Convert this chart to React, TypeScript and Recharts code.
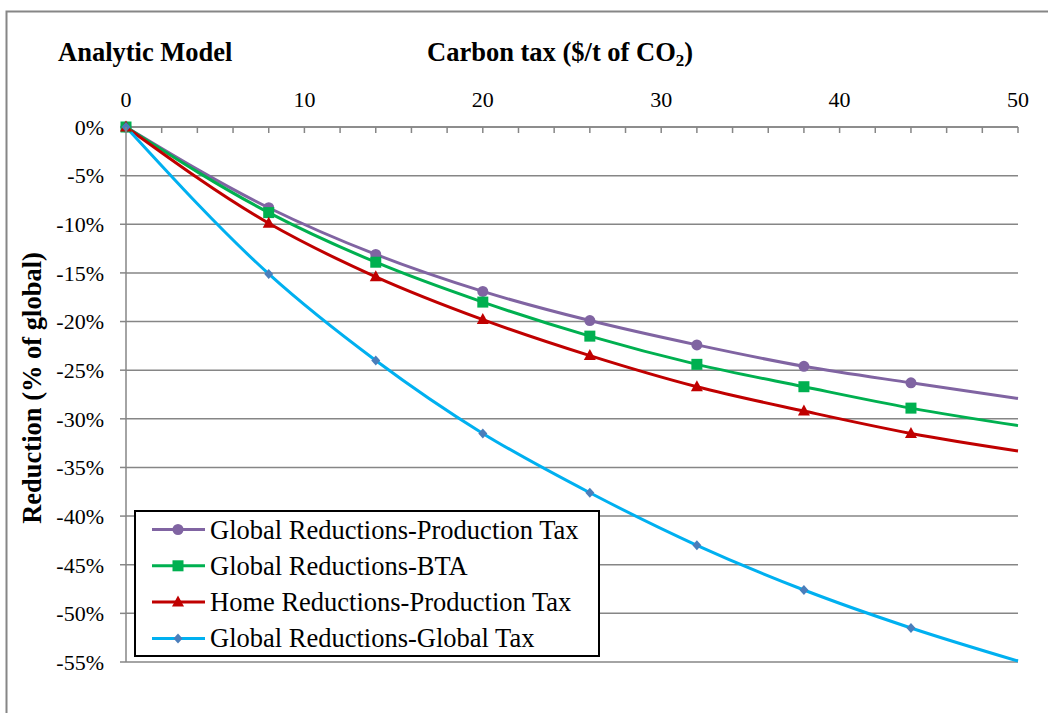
import React from 'react'
import { LineChart, Line, XAxis, YAxis, CartesianGrid } from 'recharts'

// carbon tax ($/t CO2) and reductions (% of global)
const TAX = [0, 8, 14, 20, 26, 32, 38, 44, 50]
const GLOBAL_PRODUCTION_TAX = [0, -8.3, -13.1, -16.9, -19.9, -22.4, -24.6, -26.3, -27.9]
const GLOBAL_BTA = [0, -8.8, -13.9, -18.0, -21.5, -24.4, -26.7, -28.9, -30.7]
const HOME_PRODUCTION_TAX = [0, -9.9, -15.4, -19.8, -23.5, -26.7, -29.2, -31.5, -33.3]
const GLOBAL_GLOBAL_TAX = [0, -15.1, -24.0, -31.5, -37.6, -43.0, -47.6, -51.5, -54.9]

const X_TICKS = [0, 2, 4, 6, 8, 10, 12, 14, 16, 18, 20, 22, 24, 26, 28, 30, 32, 34, 36, 38, 40, 42, 44, 46, 48, 50]
const Y_TICKS = [0, -5, -10, -15, -20, -25, -30, -35, -40, -45, -50, -55]
const LAST_TAX = TAX[TAX.length - 1]

const data = TAX.map((t, i) => ({
  tax: t,
  gp: GLOBAL_PRODUCTION_TAX[i],
  bta: GLOBAL_BTA[i],
  home: HOME_PRODUCTION_TAX[i],
  gg: GLOBAL_GLOBAL_TAX[i],
}))

const FONT = '"Liberation Serif", "Times New Roman", serif'
const GRID = '#868686'

type Shape = 'circle' | 'square' | 'triangle' | 'diamond'

const SERIES: { key: string; name: string; color: string; marker: string; shape: Shape }[] = [
  { key: 'gp', name: 'Global Reductions-Production Tax', color: '#8064A2', marker: '#8064A2', shape: 'circle' },
  { key: 'bta', name: 'Global Reductions-BTA', color: '#00B050', marker: '#00B050', shape: 'square' },
  { key: 'home', name: 'Home Reductions-Production Tax', color: '#C00000', marker: '#C00000', shape: 'triangle' },
  { key: 'gg', name: 'Global Reductions-Global Tax', color: '#00B0F0', marker: '#4A7EBB', shape: 'diamond' },
]

function Marker({ cx, cy, shape, color }: { cx: number; cy: number; shape: Shape; color: string }) {
  if (shape === 'circle') return <circle cx={cx} cy={cy} r={5.5} fill={color} />
  if (shape === 'square') return <rect x={cx - 5.5} y={cy - 5.5} width={11} height={11} fill={color} />
  if (shape === 'triangle')
    return <polygon points={`${cx},${cy - 6.5} ${cx + 6},${cy + 4.5} ${cx - 6},${cy + 4.5}`} fill={color} />
  return <polygon points={`${cx},${cy - 5} ${cx + 4.5},${cy} ${cx},${cy + 5} ${cx - 4.5},${cy}`} fill={color} />
}

const makeDot = (shape: Shape, color: string) => (props: any) => {
  const { cx, cy, payload, index } = props
  if (payload.tax === LAST_TAX || cx == null) return <g key={`d-${index}`} />
  return <Marker key={`d-${index}`} cx={cx} cy={cy} shape={shape} color={color} />
}

const XTick = (props: any) => {
  const { x, y, payload } = props
  const axisY = y + 20
  const major = payload.value % 10 === 0
  return (
    <g>
      <line x1={x} x2={x} y1={axisY} y2={axisY + 6} stroke={GRID} strokeWidth={1.5} />
      {major && (
        <text x={x} y={y} textAnchor="middle" fontSize={22} fontFamily={FONT} fill="#000">
          {payload.value}
        </text>
      )}
    </g>
  )
}

const LegendBox = () => (
  <g transform="translate(135 511)">
    <rect x={0} y={0} width={464} height={145} fill="#fff" stroke="#000" strokeWidth={2} />
    {SERIES.map((s, i) => {
      const cy = 18.5 + i * 36.3
      return (
        <g key={s.key}>
          <line x1={17} x2={70} y1={cy} y2={cy} stroke={s.color} strokeWidth={3} />
          <Marker cx={43} cy={cy} shape={s.shape} color={s.marker} />
          <text x={75} y={cy + 9} fontSize={26.5} fontFamily={FONT} fill="#000">
            {s.name}
          </text>
        </g>
      )
    })}
  </g>
)

export default function App() {
  return (
    <div style={{ position: 'absolute', left: 0, top: 0, width: 1048, height: 713, background: '#fff', overflow: 'hidden' }}>
      <LineChart width={1048} height={713} data={data} margin={{ top: 87, right: 30, bottom: 51, left: 46 }}>
        <CartesianGrid vertical={false} stroke={GRID} strokeWidth={1.5} />
        <XAxis
          dataKey="tax"
          type="number"
          orientation="top"
          domain={[0, 50]}
          ticks={X_TICKS}
          interval={0}
          height={40}
          tickSize={0}
          tickMargin={20}
          tick={<XTick />}
          tickLine={false}
          axisLine={{ stroke: GRID, strokeWidth: 1.5 }}
        />
        <YAxis
          type="number"
          domain={[-55, 0]}
          ticks={Y_TICKS}
          interval={0}
          width={80}
          tickSize={6}
          tickMargin={16}
          tickFormatter={(v: number) => `${v}%`}
          tick={{ fontSize: 22, fontFamily: FONT, fill: '#000' }}
          tickLine={{ stroke: GRID, strokeWidth: 1.5 }}
          axisLine={{ stroke: GRID, strokeWidth: 1.5 }}
        />
        {SERIES.map((s) => (
          <Line
            key={s.key}
            dataKey={s.key}
            name={s.name}
            type="monotone"
            stroke={s.color}
            strokeWidth={3}
            dot={makeDot(s.shape, s.marker)}
            activeDot={false}
            isAnimationActive={false}
          />
        ))}
      </LineChart>
      <svg
        width={1048}
        height={713}
        style={{ position: 'absolute', left: 0, top: 0, pointerEvents: 'none' }}
      >
        <polyline points="6.5,713 6.5,11.5 1048,11.5" fill="none" stroke={GRID} strokeWidth={2} />
        <text x={58} y={61} fontSize={26.5} fontWeight="bold" fontFamily={FONT} fill="#000">
          Analytic Model
        </text>
        <text x={427} y={61} fontSize={26.5} fontWeight="bold" fontFamily={FONT} fill="#000">
          Carbon tax ($/t of CO
          <tspan fontSize={17} dy={5}>2</tspan>
          <tspan dy={-5}>)</tspan>
        </text>
        <text
          x={32}
          y={388}
          transform="rotate(-90 32 388)"
          textAnchor="middle"
          dominantBaseline="central"
          fontSize={26.5}
          fontWeight="bold"
          fontFamily={FONT}
          fill="#000"
        >
          Reduction (% of global)
        </text>
        <LegendBox />
      </svg>
    </div>
  )
}
